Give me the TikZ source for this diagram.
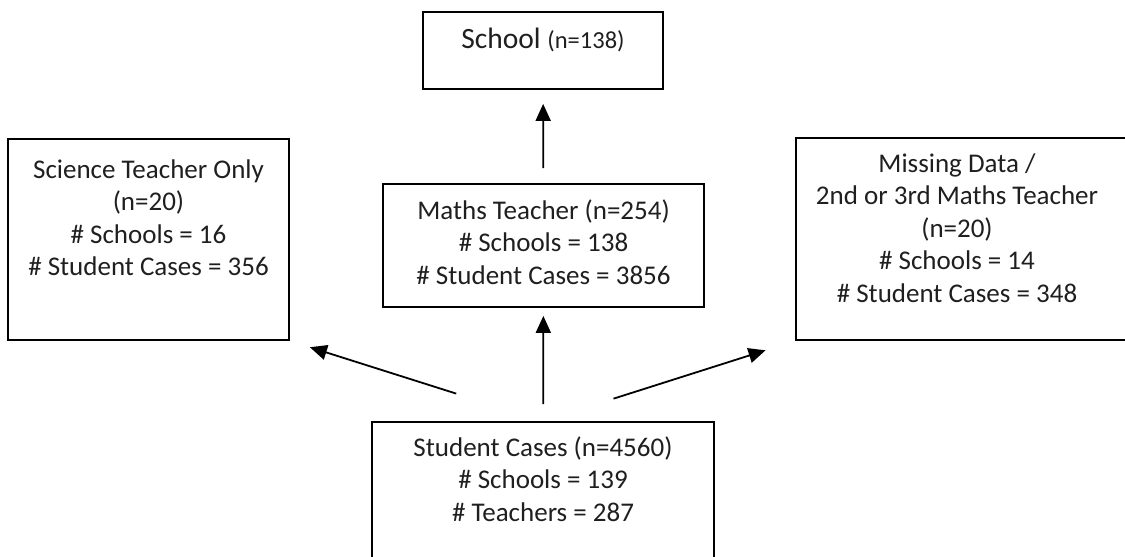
\documentclass[tikz,border=0pt]{standalone}
\usepackage{fontspec}
\setmainfont{Carlito}
\usetikzlibrary{positioning,arrows.meta}

\begin{document}
\begin{tikzpicture}[x=1pt, y=-1pt]
\tikzstyle{box} = [rectangle, draw=black, line width=1.8pt, inner sep=0pt]
\tikzstyle{txt} = [align=center, inner sep=0pt, text=black!88, font=\fontsize{27}{32.5}\selectfont]
\tikzstyle{arr} = [-{Triangle[length=17pt, width=15pt]}, line width=1.8pt]

\useasboundingbox (0,0) rectangle (1125,557);

% boxes
\node (school) [box, minimum width=240pt, minimum height=77pt] at (543,50.5) {};
\node (sci) [box, minimum width=281pt, minimum height=201pt] at (148.5,239.5) {};
\node (maths) [box, minimum width=321pt, minimum height=123pt] at (543.5,245.5) {};
\node (miss) [box, minimum width=334pt, minimum height=202pt] at (963,239) {};
\node (student) [box, minimum width=342pt, minimum height=168pt] at (543,506) {};

% box texts
\node (schooltxt) [txt, font=\fontsize{29.5}{34}\selectfont, below=17pt of school.north] {School {\fontsize{24.5}{28}\selectfont(n=138)}};
\node (scitxt) [txt, below=21pt of sci.north] {Science Teacher Only\\(n=20)\\\# Schools = 16\\\# Student Cases = 356};
\node (mathstxt) [txt, below=16pt of maths.north] {Maths Teacher (n=254)\\\# Schools = 138\\\# Student Cases = 3856};
\node (misstxt) [txt, below=16pt of miss.north, xshift=-6pt] {Missing Data /\\2nd or 3rd Maths Teacher\\(n=20)\\\# Schools = 14\\\# Student Cases = 348};
\node (studenttxt) [txt, below=15pt of student.north] {Student Cases (n=4560)\\\# Schools = 139\\\# Teachers = 287};

% arrows
\draw[arr, shorten <=15pt, shorten >=14pt] (maths) -- (school);
\draw[arr, shorten <=17pt, shorten >=8pt] (student) -- (maths);
\draw[arr, shorten <=91pt, shorten >=21pt] (student.north) -- (sci.south east);
\draw[arr, shorten <=74pt, shorten >=31pt] (student.north) -- (miss.south west);
\end{tikzpicture}
\end{document}
